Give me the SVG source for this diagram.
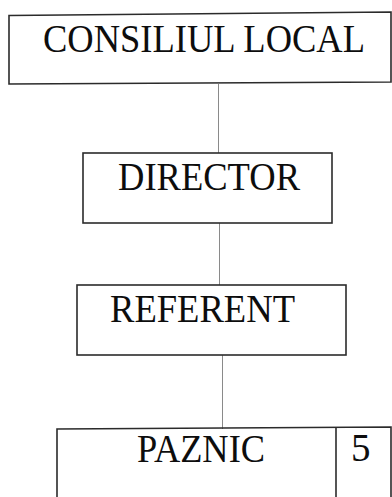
<svg xmlns="http://www.w3.org/2000/svg" width="392" height="497" viewBox="0 0 392 497">
<style>
.box{fill:none;stroke:#2b2b2b;stroke-width:1.6}
.lbl{font-family:"Liberation Serif","Times New Roman",serif;font-size:39px;fill:#0d0d0d}
.conn{stroke:#8a8a8a;stroke-width:1;fill:none}
</style>
<rect width="392" height="497" fill="#ffffff"/>
<g id="connectors">
<line class="conn" x1="218.5" y1="84" x2="218.5" y2="153"/>
<line class="conn" x1="219.5" y1="223" x2="219.5" y2="285"/>
<line class="conn" x1="222.5" y1="355" x2="222.5" y2="429"/>
</g>
<g id="consiliul">
<polygon class="box" points="9,15.5 391,12 391,82 9,84"/>
<text class="lbl" x="43" y="52" textLength="322" lengthAdjust="spacingAndGlyphs">CONSILIUL LOCAL</text>
</g>
<g id="director">
<rect class="box" x="83" y="153" width="249" height="70"/>
<text class="lbl" x="118" y="190" textLength="182" lengthAdjust="spacingAndGlyphs">DIRECTOR</text>
</g>
<g id="referent">
<rect class="box" x="77" y="285" width="269" height="70"/>
<text class="lbl" x="110" y="322" textLength="185" lengthAdjust="spacingAndGlyphs">REFERENT</text>
</g>
<g id="paznic">
<polyline class="box" points="57,498 57,429 391,427 391,498"/>
<line class="box" x1="336" y1="428" x2="336" y2="498"/>
<text class="lbl" x="137" y="462" textLength="128" lengthAdjust="spacingAndGlyphs">PAZNIC</text>
<text class="lbl" x="351" y="461">5</text>
</g>
</svg>
